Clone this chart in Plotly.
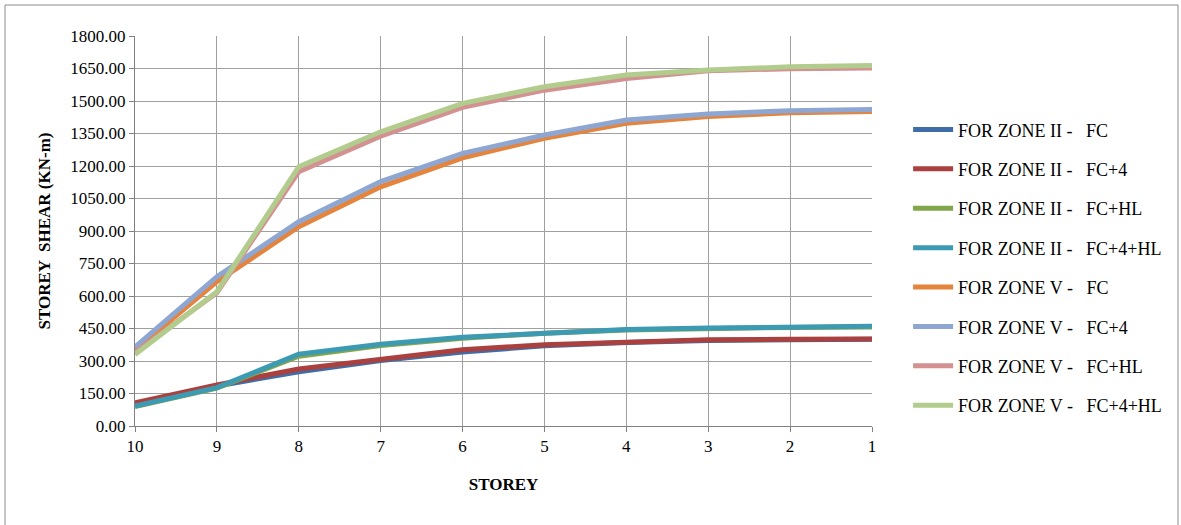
import plotly.graph_objects as go

storeys = ["10", "9", "8", "7", "6", "5", "4", "3", "2", "1"]

zone2_fc = [100, 185, 250, 302, 342, 370, 385, 395, 398, 400]
zone2_fc4 = [107, 190, 263, 310, 352, 375, 388, 398, 400, 402]
zone2_fchl = [90, 175, 322, 372, 405, 428, 443, 450, 455, 457]
zone2_fc4hl = [92, 177, 332, 377, 410, 430, 445, 452, 458, 460]
zone5_fc = [350, 666, 920, 1104, 1238, 1328, 1397, 1428, 1446, 1452]
zone5_fc4 = [365, 689, 943, 1128, 1258, 1343, 1412, 1440, 1455, 1461]
zone5_fchl = [340, 615, 1174, 1338, 1471, 1550, 1604, 1640, 1649, 1652]
zone5_fc4hl = [330, 620, 1197, 1358, 1489, 1566, 1620, 1643, 1658, 1664]

series_names = [
    "FOR ZONE II -   FC", "FOR ZONE II -   FC+4", "FOR ZONE II -   FC+HL", "FOR ZONE II -   FC+4+HL",
    "FOR ZONE V -   FC", "FOR ZONE V -   FC+4", "FOR ZONE V -   FC+HL", "FOR ZONE V -   FC+4+HL",
]
series_values = [zone2_fc, zone2_fc4, zone2_fchl, zone2_fc4hl, zone5_fc, zone5_fc4, zone5_fchl, zone5_fc4hl]
colors = ["#3E6DAA", "#AA413E", "#82A64A", "#3D9AB3", "#E4843D", "#8DA7D2", "#D49191", "#B1CC8D"]

fig = go.Figure()
for i, (name, vals, col) in enumerate(zip(series_names, series_values, colors)):
    fig.add_trace(go.Scatter(
        x=storeys, y=vals, mode="lines", name=name,
        line=dict(color=col, width=5), legendgroup=f"g{i}",
    ))

font_family = "Liberation Serif"
fig.update_layout(
    width=1181, height=525,
    margin=dict(l=135, r=309, t=36, b=99),
    paper_bgcolor="white", plot_bgcolor="white",
    font=dict(family=font_family, size=17, color="#000000"),
    showlegend=True,
    legend=dict(
        x=1.049, xanchor="left", y=0.807, yanchor="top",
        traceorder="grouped", tracegroupgap=13,
        font=dict(family=font_family, size=18, color="#000000"),
        itemwidth=40,
    ),
    xaxis=dict(
        type="category", range=[0, 9],
        showgrid=True, gridcolor="#A0A0A0", gridwidth=1,
        showline=True, linecolor="#808080", linewidth=1,
        ticks="outside", ticklen=5, tickcolor="#808080",
        tickfont=dict(family=font_family, size=17),
        title=dict(text="<b>STOREY</b>", font=dict(family=font_family, size=17), standoff=22),
    ),
    yaxis=dict(
        range=[0, 1800], dtick=150, tick0=0, tickformat=".2f",
        showgrid=True, gridcolor="#A0A0A0", gridwidth=1,
        showline=True, linecolor="#808080", linewidth=1,
        ticks="outside", ticklen=5, tickcolor="#808080",
        tickfont=dict(family=font_family, size=17),
        title=dict(text="<b>STOREY  SHEAR (KN-m)</b>", font=dict(family=font_family, size=17), standoff=15),
        zeroline=False,
    ),
)

fig.add_shape(
    type="rect", xref="paper", yref="paper",
    x0=(5 - 135) / 737, x1=(1178 - 135) / 737,
    y0=(426 - 540) / 390, y1=(426 - 5) / 390,
    line=dict(color="#8C8C8C", width=1), fillcolor="rgba(0,0,0,0)", layer="below",
)

fig.write_html("out.html", config={"displayModeBar": False},
               post_script="document.body.style.margin='0';")
